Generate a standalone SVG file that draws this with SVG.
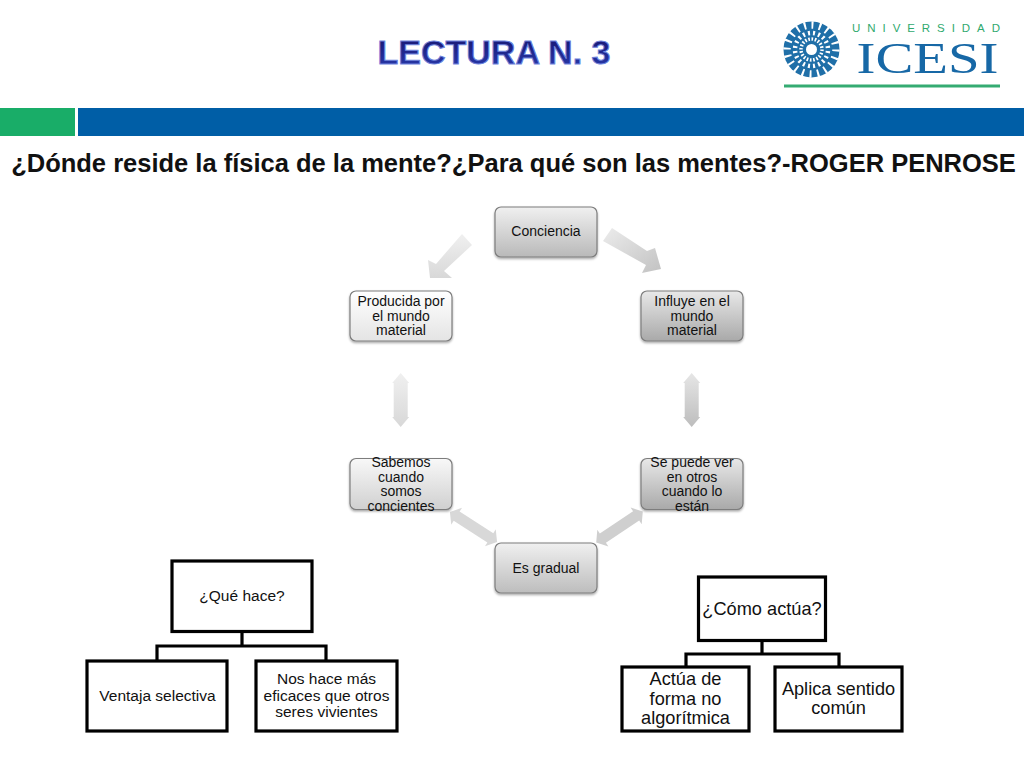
<svg xmlns="http://www.w3.org/2000/svg" width="1024" height="768" viewBox="0 0 1024 768">
<style>
text{font-family:"Liberation Sans",Arial,sans-serif;fill:#111;text-anchor:middle}
.c{font-size:14px}
.l{font-size:15.5px}
.r{font-size:18.2px}
.g{stroke:#7d7d7d;stroke-width:1.2;filter:url(#sh)}
.t{fill:#fff;stroke:#000;stroke-width:3.2}
.w{fill:none;stroke:#000;stroke-width:3.2}
.slot{fill:none;stroke:#fff}
</style>
<defs>
<filter id="sh" x="-10%" y="-10%" width="120%" height="130%"><feDropShadow dx="0" dy="1.5" stdDeviation="1.2" flood-color="#000" flood-opacity=".35"/></filter>
<linearGradient id="tt" x1="0" y1="0" x2="0" y2="1"><stop offset="0" stop-color="#15126a"/><stop offset="1" stop-color="#2a3cae"/></linearGradient>
<linearGradient id="g1" x1="0" y1="0" x2="0" y2="1"><stop offset="0" stop-color="#f0f0f0"/><stop offset="1" stop-color="#b9b9b9"/></linearGradient>
<linearGradient id="g2" x1="0" y1="0" x2="0" y2="1"><stop offset="0" stop-color="#fff"/><stop offset="1" stop-color="#e4e4e4"/></linearGradient>
<linearGradient id="g3" x1="0" y1="0" x2="0" y2="1"><stop offset="0" stop-color="#e8e8e8"/><stop offset="1" stop-color="#a9a9a9"/></linearGradient>
<linearGradient id="g4" x1="0" y1="0" x2="0" y2="1"><stop offset="0" stop-color="#f8f8f8"/><stop offset="1" stop-color="#d0d0d0"/></linearGradient>
<linearGradient id="g5" x1="0" y1="0" x2="0" y2="1"><stop offset="0" stop-color="#f0f0f0"/><stop offset="1" stop-color="#bdbdbd"/></linearGradient>
<linearGradient id="a1" x1="0" y1="0" x2="1" y2="1"><stop offset="0" stop-color="#ececec"/><stop offset="1" stop-color="#c2c2c2"/></linearGradient>
<linearGradient id="a2" x1="0" y1="0" x2="0" y2="1"><stop offset="0" stop-color="#f0f0f0"/><stop offset="1" stop-color="#d8d8d8"/></linearGradient>
<linearGradient id="a3" x1="0" y1="0" x2="0" y2="1"><stop offset="0" stop-color="#e6e6e6"/><stop offset="1" stop-color="#bdbdbd"/></linearGradient>
<polygon id="dv" points="0,-27 8.5,-17 7,-17 7,17 8.5,17 0,27 -8.5,17 -7,17 -7,-17 -8.5,-17"/>
<polygon id="dd" points="-28,0 -20,-10 -20,-5.5 20,-5.5 20,-10 28,0 20,10 20,5.5 -20,5.5 -20,10"/>
</defs>
<rect width="1024" height="768" fill="#fff"/>
<g id="header">
<text x="494" y="63.500" font-size="34" font-weight="700" style="fill:url(#tt);stroke:#6f83dc;stroke-width:1">LECTURA N. 3</text>
<rect x="0" y="108" width="75" height="28" fill="#19ad68"/>
<rect x="78" y="108" width="946" height="28" fill="#005ea6"/>
<text x="513.500" y="172" font-size="25.500" font-weight="700">¿Dónde reside la física de la mente?¿Para qué son las mentes?-ROGER PENROSE</text>
</g>
<g id="logo">
<circle cx="811.500" cy="49.500" r="28" fill="#1f6fa8"/>
<circle class="slot" cx="811.500" cy="49.500" r="24.500" stroke-width="7.500" pathLength="100" stroke-dasharray="1.300 3.700"/>
<circle class="slot" cx="811.500" cy="49.500" r="16.500" stroke-width="4.500" pathLength="100" stroke-dasharray="2 3" stroke-dashoffset="-1.500"/>
<circle class="slot" cx="811.500" cy="49.500" r="10.500" stroke-width="3.500" pathLength="100" stroke-dasharray="2.500 2.500"/>
<circle cx="811.500" cy="49.500" r="5.500" fill="#fff"/>
<text x="926" y="31.500" font-size="11.500" font-weight="400" textLength="148" lengthAdjust="spacing" style="fill:#2fa96e">UNIVERSIDAD</text>
<text x="927.500" y="73" font-size="44" textLength="142" lengthAdjust="spacingAndGlyphs" style="font-family:'Liberation Serif',serif;fill:#1768a6">ICESI</text>
<rect x="784" y="84.500" width="216" height="3" fill="#35ab72"/>
</g>
<g id="connectors">
<polygon points="612,228 647,251 655,248 661,269 642,273 646,265 603,241" fill="url(#a1)"/>
<polygon points="462,234 472,245 444,271 452,278 430,278 428,260 436,264" fill="url(#a2)"/>
<use href="#dv" x="400.700" y="400" fill="url(#a2)"/>
<use href="#dv" x="691.700" y="400" fill="url(#a3)"/>
<use href="#dd" transform="translate(473.500 527) rotate(32.600)" fill="#d8d8d8"/>
<use href="#dd" transform="translate(619.500 527) rotate(-33.700)" fill="#cfcfcf"/>
<path class="w" d="M242 632V646M157 661V646H326V661"/>
<path class="w" d="M762 641V654M686 667V654H839V667"/>
</g>
<g id="n-conciencia"><rect class="g" x="495" y="207" width="102" height="50" rx="6" fill="url(#g1)"/><text class="c" x="546" y="236">Conciencia</text></g>
<g id="n-influye"><rect class="g" x="641" y="291" width="102" height="50" rx="6" fill="url(#g3)"/><text class="c" x="692" y="305.500">Influye en el</text><text class="c" x="692" y="320.500">mundo</text><text class="c" x="692" y="335">material</text></g>
<g id="n-producida"><rect class="g" x="350" y="291" width="102" height="50" rx="6" fill="url(#g2)"/><text class="c" x="401" y="305.500">Producida por</text><text class="c" x="401" y="320.500">el mundo</text><text class="c" x="401" y="335">material</text></g>
<g id="n-sabemos"><rect class="g" x="350" y="458.500" width="102" height="51" rx="6" fill="url(#g4)"/><text class="c" x="401" y="466.500">Sabemos</text><text class="c" x="401" y="481.500">cuando</text><text class="c" x="401" y="496">somos</text><text class="c" x="401" y="511">concientes</text></g>
<g id="n-sepuede"><rect class="g" x="641" y="458.500" width="102" height="51" rx="6" fill="url(#g3)"/><text class="c" x="692" y="466.500">Se puede ver</text><text class="c" x="692" y="481.500">en otros</text><text class="c" x="692" y="496">cuando lo</text><text class="c" x="692" y="511">están</text></g>
<g id="n-gradual"><rect class="g" x="495" y="543" width="102" height="50" rx="6" fill="url(#g5)"/><text class="c" x="546" y="573">Es gradual</text></g>
<g id="n-quehace"><rect class="t" x="172" y="561" width="140" height="70.500"/><text class="c" x="242" y="601" style="font-size:15.500px">¿Qué hace?</text></g>
<g id="n-ventaja"><rect class="t" x="87" y="661" width="140" height="70"/><text class="l" x="157.500" y="701">Ventaja selectiva</text></g>
<g id="n-noshace"><rect class="t" x="256" y="661" width="141" height="70"/><text class="l" x="326.500" y="684">Nos hace más</text><text class="l" x="326.500" y="701">eficaces que otros</text><text class="l" x="326.500" y="717">seres vivientes</text></g>
<g id="n-comoactua"><rect class="t" x="698.500" y="577" width="127" height="63.500"/><text class="r" x="762" y="615">¿Cómo actúa?</text></g>
<g id="n-actua"><rect class="t" x="622" y="667" width="127" height="64"/><text class="r" x="685.500" y="685">Actúa de</text><text class="r" x="685.500" y="705">forma no</text><text class="r" x="685.500" y="724">algorítmica</text></g>
<g id="n-aplica"><rect class="t" x="775" y="667" width="127" height="64"/><text class="r" x="838.500" y="695">Aplica sentido</text><text class="r" x="838.500" y="714">común</text></g>
</svg>
